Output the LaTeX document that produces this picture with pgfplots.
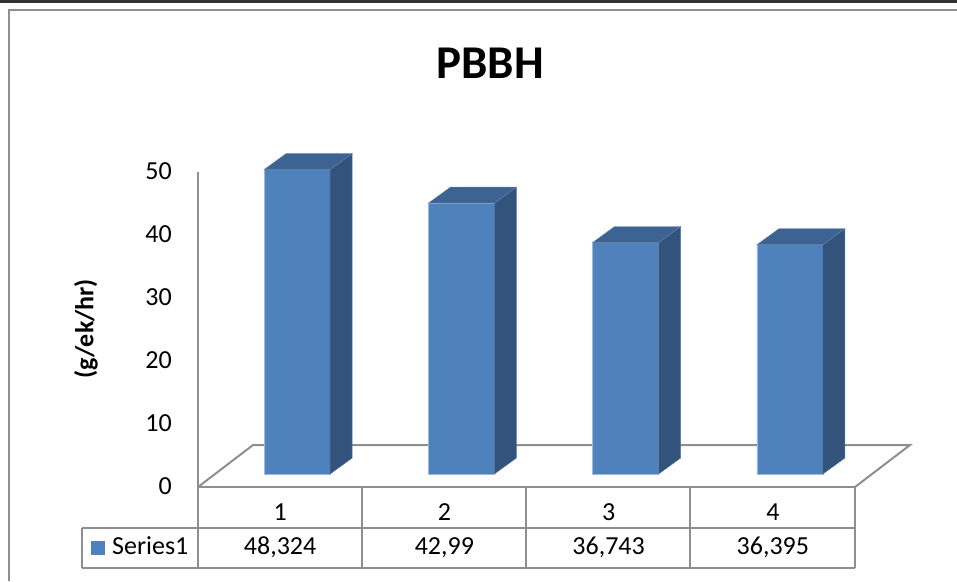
\documentclass[border=0pt]{standalone}
\usepackage{pgfplots}
\usepackage{pgfplotstable}
\pgfplotsset{compat=1.18}
\usepackage{fontspec}
\setmainfont{Carlito}
\definecolor{barfront}{HTML}{4F81BD}
\definecolor{barside}{HTML}{32537C}
\definecolor{bartop}{HTML}{3C6391}
\definecolor{linegray}{HTML}{8E8E8E}

\pgfplotstableread{
x v
1 48.324
2 42.99
3 36.743
4 36.395
}\datatable

\begin{document}
\begin{tikzpicture}[x=1pt,y=1pt]
\useasboundingbox (0,0) rectangle (957,-581);
\fill[black!80] (0,0) rectangle (957,-2.5);
\draw[linegray, line width=2pt] (9,-581) -- (9,-10) -- (957,-10);
\node[font=\fontsize{47}{50}\selectfont\bfseries, anchor=base] at (490,-78) {PBBH};
\node[font=\fontsize{26}{30}\selectfont\bfseries, rotate=90, anchor=center] at (86,-329) {(g/ek/hr)};
% floor and axis line
\draw[linegray, line width=2pt, line join=miter] (198,-487) -- (253,-445) -- (910,-445) -- (855,-487);
\draw[linegray, line width=2pt] (198,-172) -- (198,-487);
% data table grid
\draw[linegray, line width=2pt] (198,-487) -- (855,-487);
\draw[linegray, line width=2pt] (82,-528) -- (855,-528);
\draw[linegray, line width=2pt] (82,-568) -- (855,-568);
\draw[linegray, line width=2pt] (82,-528) -- (82,-568);
\foreach \xx in {198,362,526,690,855} {\draw[linegray, line width=2pt] (\xx,-487) -- (\xx,-568);}
\fill[barfront] (91,-541) rectangle (105,-555);
\node[font=\fontsize{26}{30}\selectfont, anchor=base west, inner sep=0pt] at (112,-554) {Series1};
\begin{axis}[
  at={(215pt,-474pt)}, anchor=south west,
  scale only axis, width=657pt, height=315pt,
  xmin=0.5, xmax=4.5, ymin=0, ymax=50,
  clip=false,
  axis line style={draw=none},
  major tick length=0pt,
  xtick={1,2,3,4}, ytick={0,10,...,50},
  xtick pos=bottom, ytick pos=left,
  /pgf/number format/assume math mode=true,
  tick label style={font=\fontsize{26}{30}\selectfont, text=black},
  yticklabel style={anchor=east, inner sep=0pt, xshift=-43pt, yshift=-12pt},
  xticklabel style={anchor=base, inner sep=0pt, xshift=-17pt, yshift=-46pt},
]
\addplot[ybar, bar width=66pt, bar shift=0pt, fill=barfront, draw=barfront!55!white, line width=0.6pt] table[x=x, y=v] {\datatable};
\pgfplotsinvokeforeach{0,1,2,3}{
  \pgfplotstablegetelem{#1}{x}\of\datatable \let\cx\pgfplotsretval
  \pgfplotstablegetelem{#1}{v}\of\datatable \let\cv\pgfplotsretval
  \pgfmathsetmacro\xa{\cx-0.2009}
  \pgfmathsetmacro\xb{\cx+0.2009}
  \pgfmathsetmacro\xc{\cx+0.3349}
  \pgfmathsetmacro\xd{\cx-0.0669}
  \pgfmathsetmacro\vt{\cv+2.54}
  \edef\temp{\noexpand\addplot[fill=barside, draw=barside!80!white, line width=0.4pt] coordinates {(\xb,0) (\xc,2.54) (\xc,\vt) (\xb,\cv)} -- cycle;}
  \temp
  \edef\temp{\noexpand\addplot[fill=bartop, draw=bartop!80!white, line width=0.4pt] coordinates {(\xa,\cv) (\xb,\cv) (\xc,\vt) (\xd,\vt)} -- cycle;}
  \temp
}
\addplot[draw=none, mark=none, point meta=explicit,
  nodes near coords={\pgfmathprintnumber[use comma, precision=3, assume math mode=true]{\pgfplotspointmeta}},
  nodes near coords align=center,
  every node near coord/.append style={anchor=base, inner sep=0pt, xshift=-17pt, yshift=-80pt, font=\fontsize{26}{30}\selectfont, text=black}]
  table[x=x, y expr=0, meta=v] {\datatable};
\end{axis}
\end{tikzpicture}
\end{document}
